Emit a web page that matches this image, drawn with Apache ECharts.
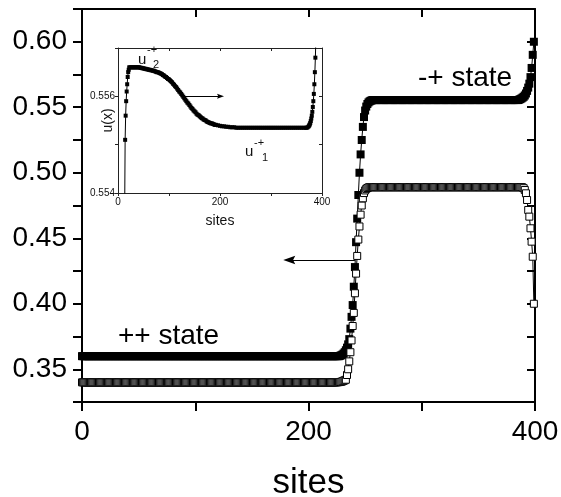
<!DOCTYPE html>
<html><head><meta charset="utf-8">
<script src="https://cdn.jsdelivr.net/npm/echarts@6/dist/echarts.min.js"></script>
<style>html,body{margin:0;padding:0;background:#fff}#c{width:561px;height:497px}</style>
</head><body><div id="c"></div>
<script>
const FONT = "'Liberation Sans', Arial, Helvetica, sans-serif";

// main chart: site index 0..399
const sites = [];
for (let s = 0; s < 400; s++) sites.push(s);

// filled squares, one value per site
const filledValues = [
0.36,0.36,0.36,0.36,0.36,0.36,0.36,0.36,0.36,0.36,0.36,0.36,0.36,0.36,0.36,0.36,0.36,0.36,0.36,0.36,
0.36,0.36,0.36,0.36,0.36,0.36,0.36,0.36,0.36,0.36,0.36,0.36,0.36,0.36,0.36,0.36,0.36,0.36,0.36,0.36,
0.36,0.36,0.36,0.36,0.36,0.36,0.36,0.36,0.36,0.36,0.36,0.36,0.36,0.36,0.36,0.36,0.36,0.36,0.36,0.36,
0.36,0.36,0.36,0.36,0.36,0.36,0.36,0.36,0.36,0.36,0.36,0.36,0.36,0.36,0.36,0.36,0.36,0.36,0.36,0.36,
0.36,0.36,0.36,0.36,0.36,0.36,0.36,0.36,0.36,0.36,0.36,0.36,0.36,0.36,0.36,0.36,0.36,0.36,0.36,0.36,
0.36,0.36,0.36,0.36,0.36,0.36,0.36,0.36,0.36,0.36,0.36,0.36,0.36,0.36,0.36,0.36,0.36,0.36,0.36,0.36,
0.36,0.36,0.36,0.36,0.36,0.36,0.36,0.36,0.36,0.36,0.36,0.36,0.36,0.36,0.36,0.36,0.36,0.36,0.36,0.36,
0.36,0.36,0.36,0.36,0.36,0.36,0.36,0.36,0.36,0.36,0.36,0.36,0.36,0.36,0.36,0.36,0.36,0.36,0.36,0.36,
0.36,0.36,0.36,0.36,0.36,0.36,0.36,0.36,0.36,0.36,0.36,0.36,0.36,0.36,0.36,0.36,0.36,0.36,0.36,0.36,
0.36,0.36,0.36,0.36,0.36,0.36,0.36,0.36,0.36,0.36,0.36,0.36,0.36,0.36,0.36,0.36,0.36,0.36,0.36,0.36,
0.36,0.36,0.36,0.36,0.36,0.36,0.36,0.36,0.36,0.36,0.36,0.36,0.36,0.36,0.36,0.36,0.36,0.36,0.36,0.36,
0.36,0.36,0.36,0.36,0.36,0.36,0.36,0.36,
0.3603,0.3607,0.3612,0.362,0.363,0.3645,0.3665,0.369,0.373,0.381,
0.39,0.399,0.413,0.428,0.447,0.465,0.483,0.5,0.514,0.525,
0.535,0.5425,0.5475,0.5505,0.5525,0.5537,0.5545,0.555,0.5553,
0.5555,0.5555,0.5555,0.5555,0.5555,0.5555,0.5555,0.5555,0.5555,0.5555,0.5555,0.5555,0.5555,0.5555,0.5555,0.5555,0.5555,0.5555,0.5555,0.5555,
0.5555,0.5555,0.5555,0.5555,0.5555,0.5555,0.5555,0.5555,0.5555,0.5555,0.5555,0.5555,0.5555,0.5555,0.5555,0.5555,0.5555,0.5555,0.5555,0.5555,
0.5555,0.5555,0.5555,0.5555,0.5555,0.5555,0.5555,0.5555,0.5555,0.5555,0.5555,0.5555,0.5555,0.5555,0.5555,0.5555,0.5555,0.5555,0.5555,0.5555,
0.5555,0.5555,0.5555,0.5555,0.5555,0.5555,0.5555,0.5555,0.5555,0.5555,0.5555,0.5555,0.5555,0.5555,0.5555,0.5555,0.5555,0.5555,0.5555,0.5555,
0.5555,0.5555,0.5555,0.5555,0.5555,0.5555,0.5555,0.5555,0.5555,0.5555,0.5555,0.5555,0.5555,0.5555,0.5555,0.5555,0.5555,0.5555,0.5555,0.5555,
0.5555,0.5555,0.5555,0.5555,0.5555,0.5555,0.5555,0.5555,0.5555,0.5555,0.5555,0.5555,0.5555,0.5555,0.5555,0.5555,0.5555,0.5555,0.5555,0.5555,
0.5555,0.5555,0.5555,0.5555,0.5555,0.5555,0.5555,0.5555,0.5555,
0.5558,0.5562,0.5567,0.5573,0.558,0.559,0.5605,0.5625,0.565,0.568,0.573,0.58,0.59,0.6
];

// open squares, one value per site
const openValues = [
0.34,0.34,0.34,0.34,0.34,0.34,0.34,0.34,0.34,0.34,0.34,0.34,0.34,0.34,0.34,0.34,0.34,0.34,0.34,0.34,
0.34,0.34,0.34,0.34,0.34,0.34,0.34,0.34,0.34,0.34,0.34,0.34,0.34,0.34,0.34,0.34,0.34,0.34,0.34,0.34,
0.34,0.34,0.34,0.34,0.34,0.34,0.34,0.34,0.34,0.34,0.34,0.34,0.34,0.34,0.34,0.34,0.34,0.34,0.34,0.34,
0.34,0.34,0.34,0.34,0.34,0.34,0.34,0.34,0.34,0.34,0.34,0.34,0.34,0.34,0.34,0.34,0.34,0.34,0.34,0.34,
0.34,0.34,0.34,0.34,0.34,0.34,0.34,0.34,0.34,0.34,0.34,0.34,0.34,0.34,0.34,0.34,0.34,0.34,0.34,0.34,
0.34,0.34,0.34,0.34,0.34,0.34,0.34,0.34,0.34,0.34,0.34,0.34,0.34,0.34,0.34,0.34,0.34,0.34,0.34,0.34,
0.34,0.34,0.34,0.34,0.34,0.34,0.34,0.34,0.34,0.34,0.34,0.34,0.34,0.34,0.34,0.34,0.34,0.34,0.34,0.34,
0.34,0.34,0.34,0.34,0.34,0.34,0.34,0.34,0.34,0.34,0.34,0.34,0.34,0.34,0.34,0.34,0.34,0.34,0.34,0.34,
0.34,0.34,0.34,0.34,0.34,0.34,0.34,0.34,0.34,0.34,0.34,0.34,0.34,0.34,0.34,0.34,0.34,0.34,0.34,0.34,
0.34,0.34,0.34,0.34,0.34,0.34,0.34,0.34,0.34,0.34,0.34,0.34,0.34,0.34,0.34,0.34,0.34,0.34,0.34,0.34,
0.34,0.34,0.34,0.34,0.34,0.34,0.34,0.34,0.34,0.34,0.34,0.34,0.34,0.34,0.34,0.34,0.34,0.34,0.34,0.34,
0.34,0.34,0.34,0.34,0.34,0.34,
0.3401,0.3402,0.3403,0.3405,0.3408,0.3412,0.3416,0.342,0.3456,0.35,
0.356,0.363,0.372,0.383,0.393,0.408,0.423,0.4365,0.449,0.459,
0.468,0.475,0.4805,0.4845,0.4865,0.4877,0.4884,0.4888,
0.489,0.489,0.489,0.489,0.489,0.489,0.489,0.489,0.489,0.489,0.489,0.489,0.489,0.489,0.489,0.489,0.489,0.489,0.489,0.489,
0.489,0.489,0.489,0.489,0.489,0.489,0.489,0.489,0.489,0.489,0.489,0.489,0.489,0.489,0.489,0.489,0.489,0.489,0.489,0.489,
0.489,0.489,0.489,0.489,0.489,0.489,0.489,0.489,0.489,0.489,0.489,0.489,0.489,0.489,0.489,0.489,0.489,0.489,0.489,0.489,
0.489,0.489,0.489,0.489,0.489,0.489,0.489,0.489,0.489,0.489,0.489,0.489,0.489,0.489,0.489,0.489,0.489,0.489,0.489,0.489,
0.489,0.489,0.489,0.489,0.489,0.489,0.489,0.489,0.489,0.489,0.489,0.489,0.489,0.489,0.489,0.489,0.489,0.489,0.489,0.489,
0.489,0.489,0.489,0.489,0.489,0.489,0.489,0.489,0.489,0.489,0.489,0.489,0.489,0.489,0.489,0.489,0.489,0.489,0.489,0.489,
0.489,0.489,0.489,0.489,0.489,0.489,0.489,0.489,0.489,0.489,0.489,0.489,0.489,0.489,0.489,
0.4888,0.4882,0.4868,0.4843,0.4792,0.4716,0.4665,0.4576,0.4474,0.4359,0.4
];

// inset curve u(x)
const insetSites = [
13,14,15,16,17,18,19,20,21,22,
24,26,28,30,32,34,36,38,40,42,
44,46,48,50,52,54,56,58,60,62,64,66,68,70,72,74,76,78,80,82,
84,86,88,90,92,94,96,98,100,102,104,106,108,110,112,114,116,118,120,122,
124,126,128,130,132,134,136,138,140,142,144,146,148,150,152,154,156,158,160,162,
164,166,168,170,172,174,176,178,180,182,184,186,188,190,192,196,200,204,208,212,
216,220,224,228,
232,236,240,244,248,252,256,260,264,268,272,276,280,284,288,292,296,300,304,308,312,316,320,324,328,332,336,340,344,348,352,356,360,364,368,
370,372,374,375,376,377,378,379,380,381,382,383,384,385,386,387,388
];
const insetValues = [
0.5535,0.5551,0.5556,0.5559,0.5561,0.55625,0.5564,0.5565,0.55655,0.5566,
0.5566,0.5566,0.5566,0.5566,0.5566,0.5566,0.5566,0.5566,0.5566,0.5566,
0.55659,0.55659,0.55658,0.55658,0.55657,0.55657,0.55656,0.55656,0.55655,0.55655,0.55654,0.55654,0.55653,0.55653,0.55652,0.55651,0.5565,0.5565,0.55649,0.55648,
0.55647,0.55646,0.55644,0.55643,0.55641,0.5564,0.55638,0.55636,0.55635,0.55633,0.55631,0.55629,0.55626,0.55624,0.55621,0.55619,0.55616,0.55613,0.5561,0.55608,
0.55605,0.55602,0.55599,0.55596,0.55593,0.5559,0.55587,0.55585,0.55582,0.55579,0.55576,0.55574,0.55571,0.55569,0.55567,0.55564,0.55562,0.55561,0.55559,0.55557,
0.55555,0.55554,0.55552,0.55551,0.5555,0.55548,0.55547,0.55546,0.55545,0.55544,0.55544,0.55543,0.55542,0.55541,0.55541,0.5554,0.55539,0.55538,0.55538,0.55537,
0.55537,0.55536,0.55536,0.55536,
0.55535,0.55535,0.55535,0.55535,0.55535,0.55535,0.55535,0.55535,0.55535,0.55535,0.55535,0.55535,0.55535,0.55535,0.55535,0.55535,0.55535,0.55535,0.55535,0.55535,0.55535,0.55535,0.55535,0.55535,0.55535,0.55535,0.55535,0.55535,0.55535,0.55535,0.55535,0.55535,0.55535,0.55535,0.55535,
0.55535,0.55536,0.55538,0.5554,0.55542,0.55545,0.55549,0.55554,0.5556,0.55568,0.55578,0.5559,0.55605,0.55625,0.5565,0.5568,0.5572
];

// axis ticks / labels
const mainXLabels = [0, 200, 400];
const mainYLabels = ['0.35', '0.40', '0.45', '0.50', '0.55', '0.60'];
const insetXLabels = [0, 200, 400];
const insetYLabels = ['0.554', '0.556'];

// annotation arrows (data coordinates)
const arrowMain = [[241, 0.4334], [183, 0.4334]];
const arrowInset = [[131, 0.556], [201, 0.556]];

const filledData = sites.map((s, i) => [s, filledValues[i]]);
const openData = sites.map((s, i) => [s, openValues[i]]);
const insetData = insetSites.map((s, i) => [s, insetValues[i]]);

const black = '#000';
const ARROW = 'path://M5,0L10,14L5,11.5L0,14Z';

function mainAxisCommon(extra) {
  return Object.assign({
    type: 'value', splitLine: { show: false },
    axisLine: { show: true, onZero: false, lineStyle: { color: black, width: 2 } }
  }, extra);
}
function insetAxisCommon(extra) {
  return Object.assign({
    type: 'value', gridIndex: 1, splitLine: { show: false },
    axisLine: { show: true, onZero: false, lineStyle: { color: '#222', width: 1 } }
  }, extra);
}

const chart = echarts.init(document.getElementById('c'), null, { renderer: 'canvas' });

chart.setOption({
  animation: false,
  backgroundColor: '#fff',
  textStyle: { fontFamily: FONT },
  grid: [
    { left: 82, top: 9, width: 453, height: 393, containLabel: false, outerBoundsMode: 'none' },
    { left: 118, top: 48, width: 204, height: 145, containLabel: false, outerBoundsMode: 'none' }
  ],
  xAxis: [
    mainAxisCommon({
      gridIndex: 0, position: 'bottom', min: 0, max: 400, interval: 100,
      axisTick: { show: true, inside: false, length: 9, lineStyle: { color: black, width: 2 } },
      axisLabel: { show: true, fontSize: 28, color: black, fontFamily: FONT, margin: 16,
        formatter: v => mainXLabels.indexOf(v) >= 0 ? String(v) : '' },
      name: 'sites', nameLocation: 'middle', nameGap: 64, nameMoveOverlap: false,
      nameTextStyle: { fontSize: 35, color: black, fontFamily: FONT }
    }),
    mainAxisCommon({
      gridIndex: 0, position: 'top', min: 0, max: 400, interval: 100,
      axisTick: { show: true, inside: true, length: 8, lineStyle: { color: black, width: 2 } },
      axisLabel: { show: false }
    }),
    insetAxisCommon({
      position: 'bottom', min: 0, max: 400, interval: 100,
      axisTick: { show: true, inside: false, length: 3, lineStyle: { color: '#222', width: 1 } },
      axisLabel: { show: true, fontSize: 10, color: '#111', fontFamily: FONT, margin: 4,
        formatter: v => insetXLabels.indexOf(v) >= 0 ? String(v) : '' },
      name: 'sites', nameLocation: 'middle', nameGap: 21, nameMoveOverlap: false,
      nameTextStyle: { fontSize: 14, color: '#111', fontFamily: FONT }
    }),
    insetAxisCommon({
      position: 'top', min: 0, max: 400, interval: 100,
      axisTick: { show: true, inside: true, length: 3, lineStyle: { color: '#222', width: 1 } },
      axisLabel: { show: false }
    })
  ],
  yAxis: [
    mainAxisCommon({
      gridIndex: 0, position: 'left', min: 0.325, max: 0.625, interval: 0.025,
      axisTick: { show: true, inside: false, length: 9, lineStyle: { color: black, width: 2 } },
      axisLabel: { show: true, fontSize: 28, color: black, fontFamily: FONT, margin: 15,
        formatter: v => { const t = v.toFixed(2); return (Math.round(v * 1000) % 50 === 0 && mainYLabels.indexOf(t) >= 0) ? t : ''; } }
    }),
    mainAxisCommon({
      gridIndex: 0, position: 'right', min: 0.325, max: 0.625, interval: 0.025,
      axisTick: { show: true, inside: true, length: 8, lineStyle: { color: black, width: 2 } },
      axisLabel: { show: false }
    }),
    insetAxisCommon({
      position: 'left', min: 0.554, max: 0.557, interval: 0.001,
      axisTick: { show: true, inside: false, length: 3, lineStyle: { color: '#222', width: 1 } },
      axisLabel: { show: true, fontSize: 10, color: '#111', fontFamily: FONT, margin: 3,
        formatter: v => { const t = v.toFixed(3); return insetYLabels.indexOf(t) >= 0 ? t : ''; } },
      name: 'u(x)', nameLocation: 'middle', nameGap: 3, nameMoveOverlap: false,
      nameTextStyle: { fontSize: 14, color: '#111', fontFamily: FONT }
    }),
    insetAxisCommon({
      position: 'right', min: 0.554, max: 0.557, interval: 0.001,
      axisTick: { show: true, inside: true, length: 3, lineStyle: { color: '#222', width: 1 } },
      axisLabel: { show: false }
    })
  ],
  series: [
    {
      name: 'filled', type: 'line', xAxisIndex: 0, yAxisIndex: 0, data: filledData,
      symbol: 'rect', symbolSize: 8, showSymbol: true, showAllSymbol: true,
      itemStyle: { color: black }, lineStyle: { color: black, width: 1 },
      silent: true, z: 2, emphasis: { disabled: true },
      markLine: {
        silent: true, symbol: ['none', ARROW], symbolSize: 12, symbolKeepAspect: true,
        label: { show: false }, lineStyle: { color: black, width: 1, type: 'solid' },
        emphasis: { disabled: true },
        data: [[{ coord: arrowMain[0] }, { coord: arrowMain[1] }]]
      }
    },
    {
      name: 'open', type: 'line', xAxisIndex: 0, yAxisIndex: 0, data: openData,
      symbol: 'rect', symbolSize: 7, showSymbol: true, showAllSymbol: true,
      itemStyle: { color: '#fff', borderColor: black, borderWidth: 1 },
      lineStyle: { color: black, width: 1 },
      silent: true, z: 3, emphasis: { disabled: true }
    },
    {
      name: 'inset', type: 'line', xAxisIndex: 2, yAxisIndex: 2, data: insetData,
      symbol: 'rect', symbolSize: 4, showSymbol: true, showAllSymbol: true,
      itemStyle: { color: black }, lineStyle: { color: black, width: 1 },
      silent: true, z: 4, clip: true, emphasis: { disabled: true },
      markLine: {
        silent: true, symbol: ['none', ARROW], symbolSize: 7, symbolKeepAspect: true,
        label: { show: false }, lineStyle: { color: black, width: 1, type: 'solid' },
        emphasis: { disabled: true },
        data: [[{ coord: arrowInset[0] }, { coord: arrowInset[1] }]]
      }
    }
  ],
  graphic: [
    { type: 'text', x: 118, y: 336, style: { text: '++ state', fontSize: 28, fontFamily: FONT, fill: black, align: 'left', verticalAlign: 'middle' } },
    { type: 'text', x: 418, y: 78.6, style: { text: '-+ state', fontSize: 28, fontFamily: FONT, fill: black, align: 'left', verticalAlign: 'middle' } },
    { type: 'text', x: 138, y: 60, style: { text: 'u', fontSize: 15, fontFamily: FONT, fill: '#111', align: 'left', verticalAlign: 'middle' } },
    { type: 'text', x: 147, y: 50, style: { text: '-+', fontSize: 11, fontFamily: FONT, fill: '#111', align: 'left', verticalAlign: 'middle' } },
    { type: 'text', x: 153, y: 65, style: { text: '2', fontSize: 11, fontFamily: FONT, fill: '#111', align: 'left', verticalAlign: 'middle' } },
    { type: 'text', x: 245, y: 152, style: { text: 'u', fontSize: 15, fontFamily: FONT, fill: '#111', align: 'left', verticalAlign: 'middle' } },
    { type: 'text', x: 254, y: 143, style: { text: '-+', fontSize: 11, fontFamily: FONT, fill: '#111', align: 'left', verticalAlign: 'middle' } },
    { type: 'text', x: 262, y: 158, style: { text: '1', fontSize: 11, fontFamily: FONT, fill: '#111', align: 'left', verticalAlign: 'middle' } }
  ]
});
</script></body></html>
